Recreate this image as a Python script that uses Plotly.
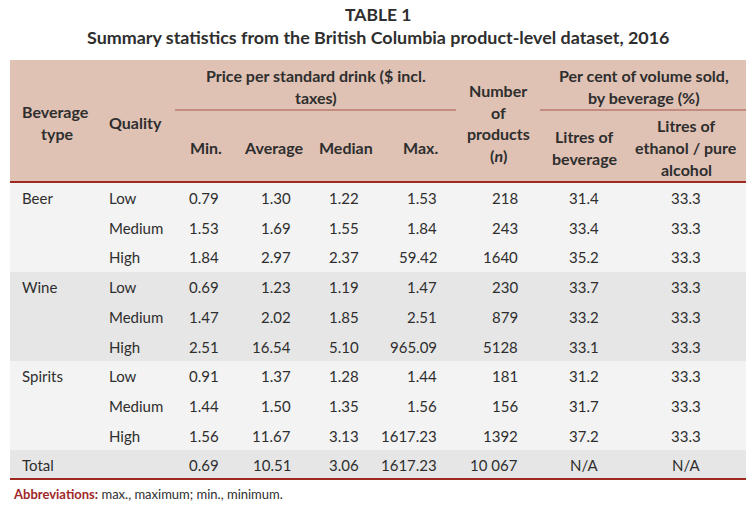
import plotly.graph_objects as go

# ---------------- data ----------------
title_line1 = "TABLE 1"
title_line2 = "Summary statistics from the British Columbia product-level dataset, 2016"

beverage_types = ["Beer", "Wine", "Spirits"]
quality_levels = ["Low", "Medium", "High"]

price_min = [0.79, 1.53, 1.84, 0.69, 1.47, 2.51, 0.91, 1.44, 1.56]
price_avg = [1.30, 1.69, 2.97, 1.23, 2.02, 16.54, 1.37, 1.50, 11.67]
price_median = [1.22, 1.55, 2.37, 1.19, 1.85, 5.10, 1.28, 1.35, 3.13]
price_max = [1.53, 1.84, 59.42, 1.47, 2.51, 965.09, 1.44, 1.56, 1617.23]
n_products = [218, 243, 1640, 230, 879, 5128, 181, 156, 1392]
pct_litres_beverage = [31.4, 33.4, 35.2, 33.7, 33.2, 33.1, 31.2, 31.7, 37.2]
pct_litres_ethanol = [33.3, 33.3, 33.3, 33.3, 33.3, 33.3, 33.3, 33.3, 33.3]

total_label = "Total"
total_values = ["0.69", "10.51", "3.06", "1617.23", "10 067", "N/A", "N/A"]

footnote_bold = "Abbreviations:"
footnote_text = " max., maximum; min., minimum."

# ---------------- styling / layout ----------------
W, H = 756, 512
FONT = "Lato"
TXT = "#2e2e2e"
HEAD_BG = "#dfc2b4"
BAND_LIGHT = "#f3f3f3"
BAND_DARK = "#e6e6e6"
RED = "#9c2a22"
RED_THIN = "#a8564c"

X0, X1 = 10, 746
HEAD_TOP, HEAD_BOT = 60, 182
ROW_H = 29.7
ROW0 = 198

fs = 15      # body text
hfs = 16     # header text (bold)

shapes = []
ann = []

def text(x, y, s, anchor="center", size=fs, bold=False, color=TXT):
    if bold:
        s = "<b>" + s + "</b>"
    ann.append(dict(x=x, y=y, xref="x", yref="y", text=s, showarrow=False,
                    xanchor=anchor, yanchor="middle",
                    font=dict(family=FONT, size=size, color=color)))

def htext(x, y, s, anchor="center"):
    text(x, y, s, anchor=anchor, size=hfs, bold=True)

def rect(x0, y0, x1, y1, color):
    shapes.append(dict(type="rect", xref="x", yref="y", x0=x0, y0=y0, x1=x1, y1=y1,
                       fillcolor=color, line=dict(width=0), layer="below"))

def hline(x0, x1, y, color, width):
    shapes.append(dict(type="line", xref="x", yref="y", x0=x0, x1=x1, y0=y, y1=y,
                       line=dict(color=color, width=width)))

# title
text(W / 2, 14, title_line1, size=17.5, bold=True)
text(W / 2, 37, title_line2, size=17.9, bold=True)

# header background
rect(X0, HEAD_TOP, X1, HEAD_BOT, HEAD_BG)

# body bands
band_edges = [HEAD_BOT, 272, 361, 450, 479]
band_colors = [BAND_LIGHT, BAND_DARK, BAND_LIGHT, BAND_DARK]
for i, c in enumerate(band_colors):
    rect(X0, band_edges[i], X1, band_edges[i + 1], c)

hline(X0, X1, HEAD_BOT, RED, 2)
hline(X0, X1, 479, RED, 2)
hline(175, 456, 110, RED_THIN, 1)
hline(540, X1, 110, RED_THIN, 1)

# header text
htext(55, 111, "Beverage")
htext(57, 133, "type")
htext(107, 122, "Quality", anchor="left")
htext(316, 75, "Price per standard drink ($ incl.")
htext(316, 97, "taxes)")
for cx, lab in zip([206, 273, 346, 420], ["Min.", "Average", "Median", "Max."]):
    htext(cx, 147, lab)
for yy, lab in zip([90, 112, 133, 155], ["Number", "of", "products", "(<i>n</i>)"]):
    htext(498, yy, lab)
htext(644, 75, "Per cent of volume sold,")
htext(644, 97, "by beverage (%)")
htext(584, 136, "Litres of")
htext(584, 158, "beverage")
htext(686, 125, "Litres of")
htext(686, 147, "ethanol / pure")
htext(686, 169, "alcohol")

# body rows
num_cols = [
    (221, "right", [f"{v:.2f}" for v in price_min]),
    (293, "right", [f"{v:.2f}" for v in price_avg]),
    (361, "right", [f"{v:.2f}" for v in price_median]),
    (439, "right", [f"{v:.2f}" for v in price_max]),
    (520, "right", [str(v) for v in n_products]),
    (584, "center", [f"{v:.1f}" for v in pct_litres_beverage]),
    (686, "center", [f"{v:.1f}" for v in pct_litres_ethanol]),
]

for g, bev in enumerate(beverage_types):
    for q, qual in enumerate(quality_levels):
        r = g * len(quality_levels) + q
        y = ROW0 + r * ROW_H
        if q == 0:
            text(20, y, bev, anchor="left")
        text(107, y, qual, anchor="left")
        for cx, anc, vals in num_cols:
            text(cx, y, vals[r], anchor=anc)

# total row
yt = ROW0 + 9 * ROW_H
text(20, yt, total_label, anchor="left")
for (cx, anc, _), v in zip(num_cols, total_values):
    text(cx, yt, v, anchor=anc)

# footnote
ann.append(dict(x=11, y=494, xref="x", yref="y", showarrow=False,
                xanchor="left", yanchor="middle",
                text=f"<b><span style='color:#a0282b'>{footnote_bold}</span></b>{footnote_text}",
                font=dict(family=FONT, size=13, color=TXT)))

fig = go.Figure()
fig.add_trace(go.Scatter(x=[0, W], y=[0, H], mode="markers",
                         marker=dict(opacity=0), hoverinfo="skip", showlegend=False))
fig.update_layout(
    width=W, height=H,
    margin=dict(l=0, r=0, t=0, b=0),
    paper_bgcolor="white", plot_bgcolor="white",
    xaxis=dict(range=[0, W], visible=False, fixedrange=True),
    yaxis=dict(range=[H, 0], visible=False, fixedrange=True),
    shapes=shapes, annotations=ann, showlegend=False,
)
fig.write_html("out.html", config={"displayModeBar": False},
               post_script="document.body.style.margin='0';document.body.style.overflow='hidden';")
